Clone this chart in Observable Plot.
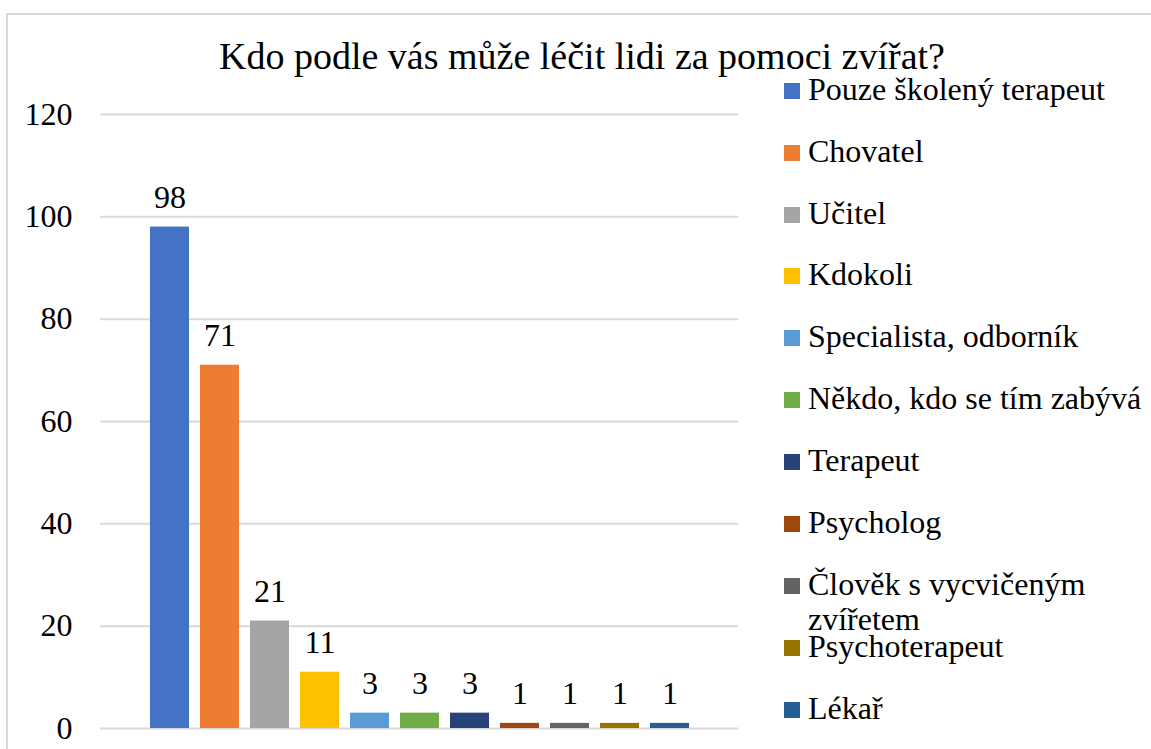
<!DOCTYPE html>
<html><head><meta charset="utf-8">
<script src="https://cdn.jsdelivr.net/npm/d3@7"></script>
<script src="https://cdn.jsdelivr.net/npm/@observablehq/plot@0.6"></script>
</head>
<body style="margin:0;font-family:'Liberation Serif', serif">
<div id="wrap" style="position:relative;width:1151px;height:749px;overflow:hidden;font-family:'Liberation Serif', serif">
  <div style="position:absolute;left:6px;top:13px;width:1200px;height:800px;border-left:2px solid #d9d9d9;border-top:2px solid #d9d9d9"></div>
  <div style="position:absolute;left:0;width:1164px;top:37px;text-align:center;font-size:38px;line-height:38px;color:#000;white-space:nowrap;font-family:'Liberation Serif', serif">Kdo podle vás může léčit lidi za pomoci zvířat?</div>
  <div id="chart" style="position:absolute;left:0;top:80px"></div>
  <div id="legend"></div>
</div>
<script>
const categories = [
  "Pouze školený terapeut",
  "Chovatel",
  "Učitel",
  "Kdokoli",
  "Specialista, odborník",
  "Někdo, kdo se tím zabývá",
  "Terapeut",
  "Psycholog",
  "Člověk s vycvičeným zvířetem",
  "Psychoterapeut",
  "Lékař"
];
const values = [98, 71, 21, 11, 3, 3, 3, 1, 1, 1, 1];
const colors = ["#4472C4", "#ED7D31", "#A5A5A5", "#FFC000", "#5B9BD5", "#70AD47", "#264478", "#9E480E", "#636363", "#997300", "#255E91"];
const yTicks = [0, 20, 40, 60, 80, 100, 120];

const data = categories.map((c, i) => ({cat: c, value: values[i]}));
const FONT = "'Liberation Serif', serif";

const chart = Plot.plot({
  width: 1151,
  height: 669,
  marginLeft: 100,
  marginRight: 413,
  marginTop: 34,
  marginBottom: 21,
  style: {fontFamily: FONT},
  x: {domain: categories, range: [139.6, 698.4], paddingInner: 0.23, paddingOuter: 0.115, axis: null},
  y: {domain: [0, 120], ticks: yTicks, label: null},
  color: {domain: categories, range: colors},
  marks: [
    Plot.ruleY(yTicks, {stroke: "#d9d9d9", strokeWidth: 2}),
    Plot.barY(data, {x: "cat", y: "value", fill: "cat"}),
    Plot.text(data, {x: "cat", y: "value", text: d => String(d.value), lineAnchor: "bottom", dy: -19, fontSize: 32, fill: "#000"}),
    Plot.axisY({ticks: yTicks, tickSize: 0, tickPadding: 28, fontSize: 32, fill: "#000", label: null})
  ]
});
document.getElementById("chart").appendChild(chart);

const legend = document.getElementById("legend");
categories.forEach((c, i) => {
  const baseline = 100 + 61.9 * i;
  const item = document.createElement("div");
  item.style.cssText = "position:absolute;left:784px;width:367px;font-size:32px;line-height:35px;color:#000;font-family:'Liberation Serif', serif;top:" + (baseline - 28.3) + "px";
  const sw = document.createElement("span");
  sw.style.cssText = "position:absolute;left:0;top:11px;width:16px;height:16px;background:" + colors[i];
  const lb = document.createElement("span");
  lb.style.cssText = "position:absolute;left:24px;width:343px";
  lb.textContent = c;
  item.appendChild(sw);
  item.appendChild(lb);
  legend.appendChild(item);
});
</script>
</body></html>
